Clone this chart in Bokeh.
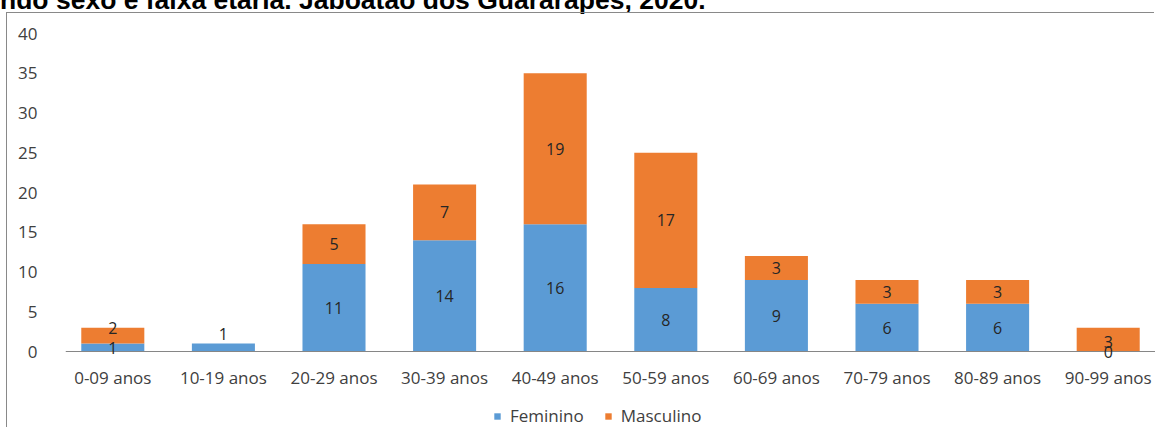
from bokeh.plotting import figure
from bokeh.layouts import column
from bokeh.models import (FactorRange, Range1d, FixedTicker, Legend, LegendItem,
                          ColumnDataSource, LabelSet, Div)
from bokeh.core.properties import value
from bokeh.embed import file_html
from bokeh.resources import INLINE

# ---------------- data ----------------
categories = ["0-09 anos", "10-19 anos", "20-29 anos", "30-39 anos", "40-49 anos",
              "50-59 anos", "60-69 anos", "70-79 anos", "80-89 anos", "90-99 anos"]
feminino = [1, 1, 11, 14, 16, 8, 9, 6, 6, 0]
masculino = [2, None, 5, 7, 19, 17, 3, 3, 3, 3]
series_names = ["Feminino", "Masculino"]
y_ticks = [0, 5, 10, 15, 20, 25, 30, 35, 40]
title_text = "ndo sexo e faixa etária. Jaboatão dos Guararapes, 2020."

# ---------------- style ----------------
BLUE = "#5B9BD5"
ORANGE = "#ED7D31"
TXT = "#404040"
FONT = "Open Sans"
TOP_STRIP = 12                 # height of the clipped-title strip above the chart
W, H = 1155, 428 - TOP_STRIP
FL, FT = 65, 21                # frame left / top
ZERO_Y = 339                   # pixel row of value 0 inside the figure
Y_MAX = 40
PX_PER_UNIT = (ZERO_Y - FT) / Y_MAX
CAT_PX = 110.6
# pixel nudges for crowded data labels (category -> (fem_px, masc_px)), positive = up
NUDGE = {"0-09 anos": (0, 8), "10-19 anos": (14, 0), "90-99 anos": (0, -2)}

masc_vals = [m if m is not None else 0 for m in masculino]
src = ColumnDataSource(dict(cat=categories, Feminino=feminino, Masculino=masc_vals))

x_range = FactorRange(*categories, range_padding=-8 / CAT_PX, range_padding_units="absolute")
y_range = Range1d(-(H - ZERO_Y) / PX_PER_UNIT, Y_MAX)

p = figure(x_range=x_range, y_range=y_range,
           width=W, height=H, output_backend="svg", toolbar_location=None,
           min_border_left=FL, min_border_right=0, min_border_top=FT, min_border_bottom=0)
p.background_fill_alpha = 0
p.border_fill_alpha = 0
p.outline_line_color = None
p.grid.visible = False

rs = p.vbar_stack(series_names, x="cat", width=0.57, color=[BLUE, ORANGE], source=src,
                  line_color=None)

# axes
p.yaxis.ticker = FixedTicker(ticks=y_ticks)
p.yaxis.axis_line_color = None
p.yaxis.major_tick_line_color = None
p.yaxis.minor_tick_line_color = None
p.yaxis.major_label_standoff = 22
p.yaxis.major_label_text_font = FONT
p.yaxis.major_label_text_font_size = "17px"
p.yaxis.major_label_text_color = TXT

p.xaxis.fixed_location = 0
p.xaxis.axis_line_color = "#868686"
p.xaxis.axis_line_width = 1
p.xaxis.major_tick_line_color = None
p.xaxis.minor_tick_line_color = None
p.xaxis.major_label_standoff = 8
p.xaxis.major_label_text_font = FONT
p.xaxis.major_label_text_font_size = "17px"
p.xaxis.major_label_text_color = TXT

# data labels
lx, ly, lt = [], [], []
for c, f, m in zip(categories, feminino, masculino):
    nf, nm = NUDGE.get(c, (0, 0))
    lx.append(c); ly.append(f / 2 + nf / PX_PER_UNIT); lt.append(str(f))
    if m is not None:
        lx.append(c); ly.append(f + m / 2 + nm / PX_PER_UNIT); lt.append(str(m))
lab_src = ColumnDataSource(dict(x=lx, y=ly, t=lt))
labels = LabelSet(x="x", y="y", text="t", source=lab_src, text_align="center",
                  text_baseline="middle", text_font=value(FONT), text_font_size=value("16px"),
                  text_color=value("#262626"))
p.add_layout(labels)

# legend
legend = Legend(items=[LegendItem(label=n, renderers=[r]) for n, r in zip(series_names, rs)],
                location=(428, 1), orientation="horizontal", glyph_width=8, glyph_height=8,
                label_height=18, label_standoff=9, spacing=20, padding=0, margin=0,
                border_line_color=None, background_fill_alpha=0,
                label_text_font=FONT, label_text_font_size="17px", label_text_color=TXT)
p.add_layout(legend, "center")

# clipped title strip + chart box edges
title_html = (
    '<div style="position:absolute; left:0px; top:-13px; white-space:nowrap; '
    "font-family:'Liberation Sans', Arial, sans-serif; font-weight:bold; font-size:26.5px; "
    f'line-height:26px; color:#000;">{title_text}</div>'
    '<div style="position:absolute; left:6px; top:12px; width:1148px; height:415px; '
    'border-left:1px solid #898989; border-top:1px solid #898989; pointer-events:none;"></div>'
)
strip = Div(text=title_html, width=W, height=TOP_STRIP, margin=0,
            styles={"position": "relative", "overflow": "visible"})

layout = column(strip, p, spacing=0)
open("out.html", "w").write(file_html(layout, INLINE))
